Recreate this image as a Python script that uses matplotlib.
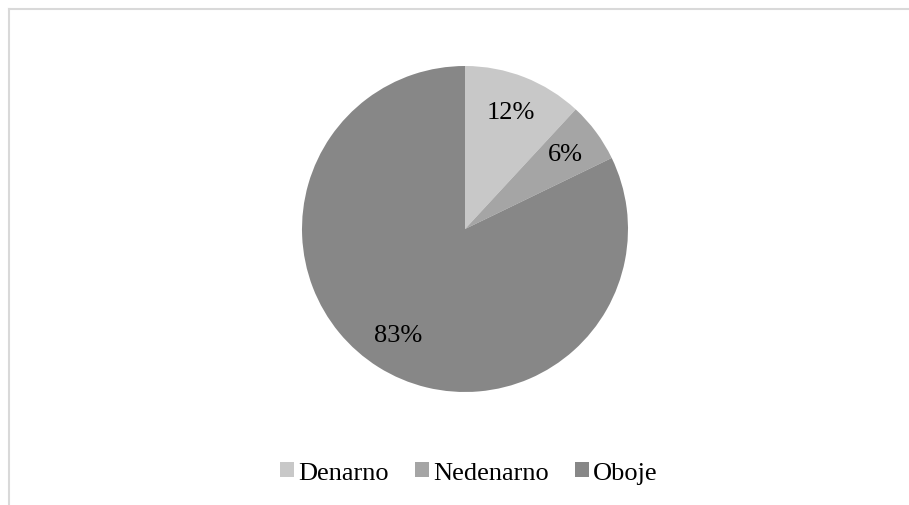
import matplotlib.pyplot as plt
from matplotlib.lines import Line2D

categories = ['Denarno', 'Nedenarno', 'Oboje']
values = [12, 6, 83]
pct_labels = ['12%', '6%', '83%']
colors = ['#c8c8c8', '#a5a5a5', '#878787']

plt.rcParams['font.family'] = ['Liberation Serif', 'DejaVu Serif']

W, H = 909, 506
fig = plt.figure(figsize=(W / 100, H / 100), dpi=100)

# pie centred at (465, 230) px, radius 163 px
r = 163
ax = fig.add_axes([(465 - r) / W, (H - 230 - r) / H, 2 * r / W, 2 * r / H])
wedges, texts = ax.pie(values, colors=colors, startangle=90, counterclock=False,
                       labels=pct_labels, labeldistance=0.77,
                       wedgeprops=dict(linewidth=0),
                       textprops=dict(fontsize=19, color='#000000'))
for t in texts:
    t.set_ha('center')
    t.set_va('center')
ax.set_xlim(-1, 1)
ax.set_ylim(-1, 1)
ax.set_aspect('equal')
ax.axis('off')

fig.legend(wedges, categories, loc='center', bbox_to_anchor=(469 / W, 1 - 474 / H),
           ncol=3, frameon=False, fontsize=19, handlelength=0.53, handleheight=0.53,
           handletextpad=0.15, columnspacing=1.0, borderaxespad=0)

# chart area border (only left and top visible)
fig.add_artist(Line2D([9 / W, 9 / W], [0, 1 - 10 / H], color='#d9d9d9', lw=1.5))
fig.add_artist(Line2D([9 / W, 1], [1 - 10 / H, 1 - 10 / H], color='#d9d9d9', lw=1.5))

fig.savefig('out.png', dpi=100)
